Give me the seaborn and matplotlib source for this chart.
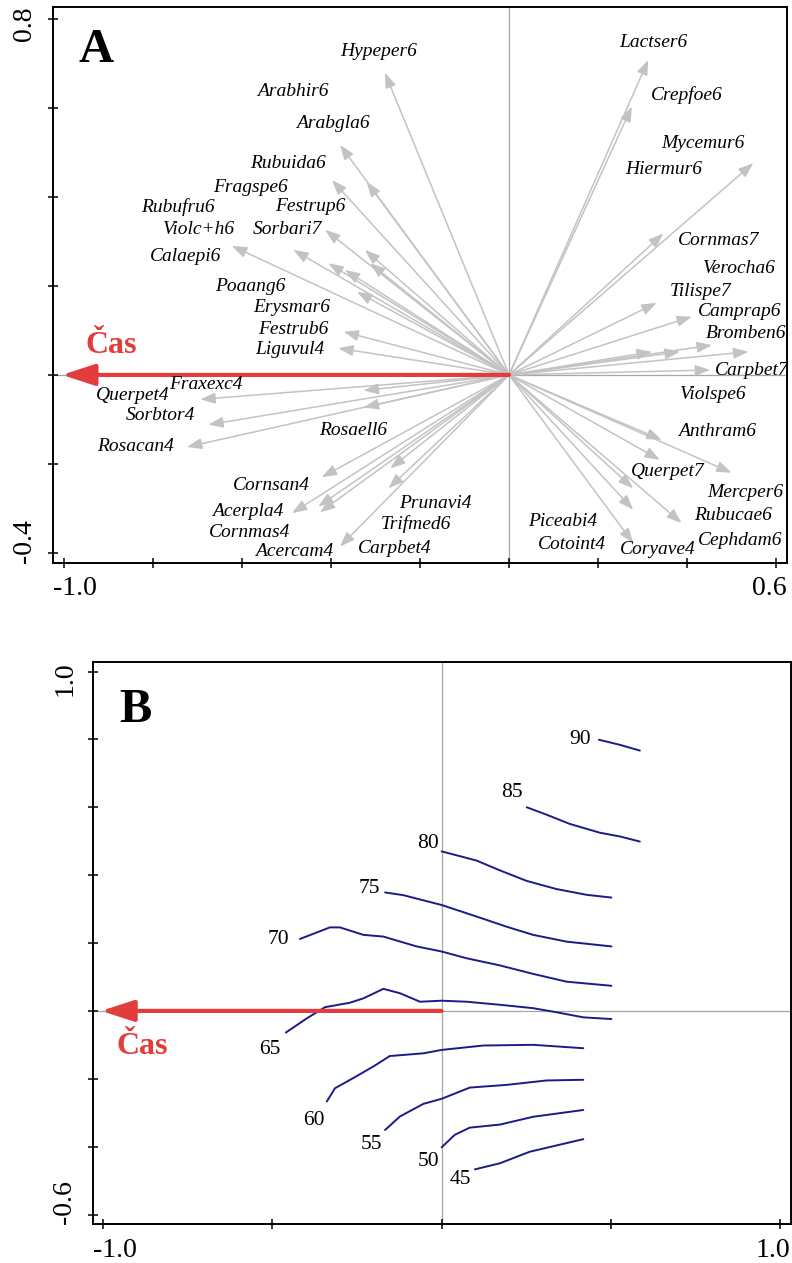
import numpy as np
import pandas as pd
import matplotlib
matplotlib.use("Agg")
import matplotlib.pyplot as plt
import seaborn as sns

# ---- panel A: species arrows (tips) ----
arrow_x = [-0.279, -0.380, -0.320, -0.398, -0.413, -0.324, -0.312, -0.485, -0.623, -0.406,
           -0.369, -0.342, -0.372, -0.384,
           -0.694, -0.327, -0.676, -0.327, -0.724, -0.421, -0.488, -0.429, -0.425, -0.267,
           -0.271, -0.380,
           0.343, 0.500, 0.339, 0.279, 0.279, 0.388, 0.279,
           0.313, 0.276, 0.549, 0.347, 0.332, 0.411, 0.321, 0.384, 0.456, 0.538, 0.452]
arrow_y = [0.679, 0.517, 0.434, 0.438, 0.326, 0.281, 0.251, 0.281, 0.290, 0.251,
           0.236, 0.187, 0.097, 0.060,
           -0.055, -0.035, -0.112, -0.073, -0.162, -0.230, -0.311, -0.296, -0.309, -0.210,
           -0.255, -0.386,
           -0.146, -0.220, -0.191, -0.255, -0.303, -0.333, -0.378,
           0.708, 0.603, 0.476, 0.318, 0.162, 0.131, 0.052, 0.052, 0.067, 0.052, 0.011]

species = ["Hypeper6", "Arabhir6", "Arabgla6", "Rubuida6", "Fragspe6", "Rubufru6", "Festrup6",
           "Violc+h6", "Sorbari7", "Calaepi6", "Poaang6", "Erysmar6", "Festrub6", "Liguvul4",
           "Fraxexc4", "Querpet4", "Sorbtor4", "Rosacan4", "Rosaell6", "Cornsan4", "Acerpla4",
           "Cornmas4", "Acercam4", "Prunavi4", "Trifmed6", "Carpbet4",
           "Piceabi4", "Cotoint4", "Coryave4",
           "Lactser6", "Crepfoe6", "Mycemur6", "Hiermur6", "Cornmas7", "Verocha6", "Tilispe7",
           "Camprap6", "Bromben6", "Carpbet7", "Violspe6", "Anthram6", "Querpet7", "Mercper6",
           "Rubucae6", "Cephdam6"]
label_x = [-0.294, -0.485, -0.396, -0.497, -0.582, -0.744, -0.447,
           -0.697, -0.497, -0.726, -0.582, -0.488, -0.485, -0.492,
           -0.681, -0.845, -0.784, -0.840, -0.351, -0.533, -0.587,
           -0.584, -0.483, -0.166, -0.209, -0.258,
           0.121, 0.142, 0.335,
           0.324, 0.400, 0.436, 0.348, 0.470, 0.517, 0.431,
           0.519, 0.533, 0.546, 0.458, 0.467, 0.357, 0.530,
           0.503, 0.519]
label_y = [0.726, 0.638, 0.566, 0.476, 0.422, 0.378, 0.378,
           0.326, 0.326, 0.265, 0.198, 0.151, 0.101, 0.056,
           -0.022, -0.047, -0.092, -0.162, -0.124, -0.249, -0.306,
           -0.355, -0.396, -0.290, -0.335, -0.391,
           -0.330, -0.382, -0.393,
           0.746, 0.629, 0.521, 0.461, 0.301, 0.240, 0.187,
           0.142, 0.094, 0.011, -0.045, -0.128, -0.216, -0.265,
           -0.315, -0.373]

# time (Čas) vector, same in both panels
cas_x = -1.005

# ---- panel B: contour isolines of stand age ----
levels = [90, 85, 80, 75, 70, 65, 60, 55, 50, 45]
x90 = [0.464, 0.526, 0.585]
y90 = [0.799, 0.784, 0.767]
x85 = [0.251, 0.310, 0.378, 0.467, 0.526, 0.585]
y85 = [0.600, 0.578, 0.551, 0.525, 0.514, 0.499]
x80 = [0.0, 0.103, 0.172, 0.251, 0.339, 0.428, 0.501]
y80 = [0.470, 0.443, 0.414, 0.383, 0.359, 0.342, 0.334]
x75 = [-0.167, -0.113, 0.0, 0.103, 0.192, 0.270, 0.369, 0.501]
y75 = [0.349, 0.341, 0.312, 0.278, 0.248, 0.224, 0.204, 0.190]
x70 = [-0.418, -0.330, -0.300, -0.231, -0.172, -0.074, 0.0, 0.074, 0.172, 0.270, 0.369, 0.501]
y70 = [0.212, 0.246, 0.246, 0.224, 0.219, 0.190, 0.175, 0.155, 0.134, 0.109, 0.086, 0.074]
x65 = [-0.460, -0.398, -0.344, -0.271, -0.231, -0.172, -0.123, -0.064, 0.0, 0.074, 0.172,
       0.270, 0.339, 0.418, 0.501]
y65 = [-0.064, -0.022, 0.011, 0.024, 0.037, 0.065, 0.052, 0.027, 0.030, 0.027, 0.018,
       0.008, -0.004, -0.019, -0.024]
x60 = [-0.339, -0.315, -0.261, -0.202, -0.153, -0.054, 0.0, 0.123, 0.270, 0.418]
y60 = [-0.267, -0.228, -0.198, -0.164, -0.133, -0.125, -0.115, -0.102, -0.100, -0.110]
x55 = [-0.167, -0.123, -0.054, 0.0, 0.083, 0.192, 0.310, 0.418]
y55 = [-0.351, -0.311, -0.274, -0.259, -0.226, -0.218, -0.205, -0.203]
x50 = [0.0, 0.039, 0.083, 0.172, 0.270, 0.418]
y50 = [-0.402, -0.365, -0.344, -0.335, -0.312, -0.292]
x45 = [0.098, 0.172, 0.260, 0.418]
y45 = [-0.467, -0.449, -0.415, -0.378]
level_lab_x = [0.408, 0.208, -0.040, -0.212, -0.482, -0.506, -0.377, -0.206, -0.040, 0.054]
level_lab_y = [0.801, 0.643, 0.494, 0.362, 0.209, -0.115, -0.323, -0.395, -0.444, -0.498]

sns.set_style("white")
plt.rcParams["font.family"] = ["Liberation Serif", "DejaVu Serif"]
plt.rcParams["text.color"] = "black"

RED = "#e23c3c"
GREY = "#c3c3c3"
NAVY = "#1b1b88"

fig = plt.figure(figsize=(7.92, 12.63), dpi=100)
axA = fig.add_axes([0.0669, 0.5545, 0.9264, 0.44])
axB = fig.add_axes([0.1170, 0.0306, 0.8813, 0.4455])


def style_axes(ax, xticks, yticks, xlim, ylim, xl, yl):
    ax.set_xlim(*xlim)
    ax.set_ylim(*ylim)
    ax.axvline(0, color="#a6a6a6", lw=0.9, zorder=0)
    ax.axhline(0, color="#a6a6a6", lw=0.9, zorder=0)
    ax.set_xticks(xticks)
    ax.set_yticks(yticks)
    ax.set_xticklabels([])
    ax.set_yticklabels([])
    ax.tick_params(bottom=True, left=True, direction="inout", length=7, width=1.1,
                   color="black")
    for s in ax.spines.values():
        s.set_color("black")
        s.set_linewidth(1.4)
    # end labels of the axes, as CANOCO prints them
    ax.text(0, -0.058, xl[0], transform=ax.transAxes, ha="left", va="baseline",
            fontsize=20)
    ax.text(1, -0.058, xl[1], transform=ax.transAxes, ha="right", va="baseline",
            fontsize=20)
    ax.text(-0.022, 1, yl[0], transform=ax.transAxes, ha="right", va="top", fontsize=20,
            rotation=90)
    ax.text(-0.022, 0, yl[1], transform=ax.transAxes, ha="right", va="bottom", fontsize=20,
            rotation=90)


def cas_arrow(ax):
    ax.annotate("", xy=(cas_x, 0), xytext=(0, 0),
                arrowprops=dict(arrowstyle="-|>,head_length=2.0,head_width=0.65",
                                mutation_scale=10, color=RED, lw=3, shrinkA=0, shrinkB=0),
                zorder=5)


# ---- A ----
style_axes(axA, np.arange(-1.0, 0.61, 0.2), np.arange(-0.4, 0.81, 0.2),
           (-1.025, 0.624), (-0.422, 0.827), ("-1.0", "0.6"), ("0.8", "-0.4"))
for ax_, ay_ in zip(arrow_x, arrow_y):
    axA.annotate("", xy=(ax_, ay_), xytext=(0, 0),
                 arrowprops=dict(arrowstyle="-|>,head_length=0.9,head_width=0.33",
                                 mutation_scale=10, color=GREY, lw=1.1, shrinkA=0, shrinkB=0),
                 zorder=2)
cas_arrow(axA)
for name, lx, ly in zip(species, label_x, label_y):
    axA.text(lx, ly, name, fontsize=14, fontstyle="italic", ha="center", va="center",
             zorder=6)
axA.text(-0.894, 0.065, "Čas", color=RED, fontsize=23, fontweight="bold",
         ha="center", va="center")
axA.text(-0.929, 0.730, "A", fontsize=35, fontweight="bold", ha="center", va="center")

# ---- B ----
style_axes(axB, np.arange(-1.0, 1.01, 0.5), np.arange(-0.6, 1.01, 0.2),
           (-1.03, 1.03), (-0.629, 1.029), ("-1.0", "1.0"), ("1.0", "-0.6"))
xs = [x90, x85, x80, x75, x70, x65, x60, x55, x50, x45]
ys = [y90, y85, y80, y75, y70, y65, y60, y55, y50, y45]
iso = pd.concat([pd.DataFrame({"x": x, "y": y, "level": lev})
                 for lev, x, y in zip(levels, xs, ys)], ignore_index=True)
sns.lineplot(data=iso, x="x", y="y", units="level", estimator=None, sort=False,
             color=NAVY, lw=1.4, ax=axB, legend=False)
axB.set_xlabel("")
axB.set_ylabel("")
cas_arrow(axB)
for lev, lx, ly in zip(levels, level_lab_x, level_lab_y):
    axB.text(lx, ly, str(lev), fontsize=15.5, ha="center", va="center")
axB.text(-0.885, -0.105, "Čas", color=RED, fontsize=23, fontweight="bold",
         ha="center", va="center")
axB.text(-0.905, 0.887, "B", fontsize=35, fontweight="bold", ha="center", va="center")

fig.savefig("out.png", dpi=100)
